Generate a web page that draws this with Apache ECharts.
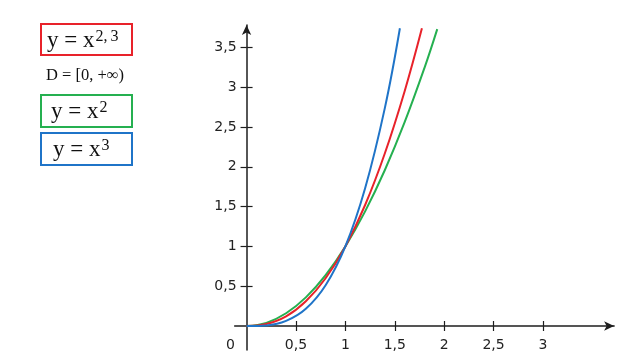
<!DOCTYPE html>
<html>
<head>
<meta charset="utf-8">
<script src="https://cdn.jsdelivr.net/npm/echarts@6/dist/echarts.min.js"></script>
<style>html,body{margin:0;padding:0;background:#fff;}#c{width:640px;height:360px;}</style>
</head>
<body>
<div id="c"></div>
<script>
// Data
const greenX = [0, 0.2, 0.4, 0.6, 0.8, 1.0, 1.2, 1.4, 1.6, 1.8, 1.93];
const greenY = [0, 0.04, 0.16, 0.36, 0.64, 1.0, 1.44, 1.96, 2.56, 3.24, 3.73];
const redX = [0, 0.2, 0.4, 0.6, 0.8, 1.0, 1.2, 1.4, 1.6, 1.775];
const redY = [0, 0.025, 0.12, 0.31, 0.6, 1.0, 1.52, 2.17, 2.95, 3.74];
const blueX = [0, 0.2, 0.4, 0.6, 0.8, 1.0, 1.2, 1.4, 1.552];
const blueY = [0, 0.008, 0.064, 0.216, 0.512, 1.0, 1.73, 2.74, 3.74];
const xTicks = [0.5, 1, 1.5, 2, 2.5, 3];
const yTicks = [0.5, 1, 1.5, 2, 2.5, 3, 3.5];
const originLabel = '0';
const boxLabels = [
  {main: 'y = x', sup: '2,3'},
  {main: 'y = x', sup: '2'},
  {main: 'y = x', sup: '3'}
];
const domainLabel = 'D = [0, +∞)';

const RED = '#e8222a', GREEN = '#25b050', BLUE = '#1f74c8';
const AX = '#1e1e1e';
const fmt = v => String(v).replace('.', ',');
const pair = (xs, ys) => xs.map((x, i) => [x, ys[i]]);

const chart = echarts.init(document.getElementById('c'), null, {renderer: 'canvas'});

const xBase = {type: 'value', min: -0.12, max: 3.72, splitLine: {show: false}};
const yBase = {type: 'value', min: -0.3, max: 3.78, splitLine: {show: false}};

function supRich(sup) {
  // math-style spacing after a comma in the exponent
  const parts = sup.split(',');
  if (parts.length === 1) return '{s|' + sup + '}';
  return '{s|' + parts[0] + ',}{t|' + parts.slice(1).join(',') + '}';
}

function box(id, y, h, color, lbl, x0) {
  const supStyle = {fontFamily: 'Liberation Serif', fontSize: 16, fill: '#111', verticalAlign: 'top', lineHeight: 24, padding: [0, 0, 10, 1]};
  return [
    {type: 'rect', id: id + 'r', shape: {x: 41, y: y, width: 91, height: h},
     style: {fill: '#fff', stroke: color, lineWidth: 2}},
    {type: 'text', id: id + 't', x: x0, y: y + h / 2 + 1,
     style: {text: '{m|' + lbl.main + '}' + supRich(lbl.sup),
       verticalAlign: 'middle', align: 'left',
       rich: {
         m: {fontFamily: 'Liberation Serif', fontSize: 23, fill: '#111', lineHeight: 24},
         s: supStyle,
         t: Object.assign({}, supStyle, {padding: [0, 0, 10, 3]})
       }}}
  ];
}

const option = {
  animation: false,
  backgroundColor: '#fff',
  grid: {left: 234.7, right: 25.9, top: 25.1, bottom: 10.1, containLabel: false, outerBoundsMode: 'none'},
  xAxis: [
    Object.assign({}, xBase, {
      position: 'bottom',
      axisLine: {show: true, onZero: false, symbol: ['none', 'arrow'], symbolSize: [7, 10], lineStyle: {color: AX, width: 1.5}},
      axisTick: {show: true, customValues: xTicks, length: 5, lineStyle: {color: AX, width: 1.2}},
      axisLabel: {show: true, customValues: xTicks, formatter: fmt, margin: 12, fontFamily: 'DejaVu Sans', fontSize: 14, color: '#222'}
    }),
    Object.assign({}, xBase, {
      position: 'bottom',
      axisLine: {show: false, onZero: false},
      axisTick: {show: true, inside: true, customValues: xTicks, length: 5, lineStyle: {color: AX, width: 1.2}},
      axisLabel: {show: false}
    })
  ],
  yAxis: [
    Object.assign({}, yBase, {
      position: 'left',
      axisLine: {show: true, onZero: false, symbol: ['none', 'arrow'], symbolSize: [7, 10], lineStyle: {color: AX, width: 1.5}},
      axisTick: {show: true, customValues: yTicks, length: 6, lineStyle: {color: AX, width: 1.2}},
      axisLabel: {show: true, customValues: yTicks, formatter: fmt, margin: 10, fontFamily: 'DejaVu Sans', fontSize: 14, color: '#222'}
    }),
    Object.assign({}, yBase, {
      position: 'left',
      axisLine: {show: false, onZero: false},
      axisTick: {show: true, inside: true, customValues: yTicks, length: 6, lineStyle: {color: AX, width: 1.2}},
      axisLabel: {show: false}
    })
  ],
  series: [
    {type: 'line', name: 'x2', data: pair(greenX, greenY), smooth: 0.4, showSymbol: false, lineStyle: {color: GREEN, width: 2}, z: 3},
    {type: 'line', name: 'x23', data: pair(redX, redY), smooth: 0.4, showSymbol: false, lineStyle: {color: RED, width: 2}, z: 4},
    {type: 'line', name: 'x3', data: pair(blueX, blueY), smooth: 0.4, showSymbol: false, lineStyle: {color: BLUE, width: 2}, z: 5}
  ],
  graphic: [].concat(
    box('b1', 24, 31, RED, boxLabels[0], 47),
    [{type: 'text', id: 'dom', x: 85, y: 76,
      style: {text: domainLabel, fontFamily: 'Liberation Serif', fontSize: 16.5, fill: '#111', align: 'center', verticalAlign: 'middle'}}],
    box('b2', 95, 32, GREEN, boxLabels[1], 51),
    box('b3', 133, 32, BLUE, boxLabels[2], 53)
  )
};
chart.setOption(option);

// place the axes through the origin, using the library's own scales
const o = chart.convertToPixel({xAxisIndex: 0, yAxisIndex: 0}, [0, 0]);
const rect = chart.getModel().getComponent('grid', 0).coordinateSystem.getRect();
const xOff = o[1] - (rect.y + rect.height);
const yOff = rect.x - o[0];
chart.setOption({
  xAxis: [{offset: xOff}, {offset: xOff}],
  yAxis: [{offset: yOff}, {offset: yOff}],
  graphic: [{type: 'text', id: 'orig', x: o[0] - 16, y: o[1] + 19,
    style: {text: originLabel, fontFamily: 'DejaVu Sans', fontSize: 14, fill: '#222', align: 'center', verticalAlign: 'middle'}}]
});
</script>
</body>
</html>
